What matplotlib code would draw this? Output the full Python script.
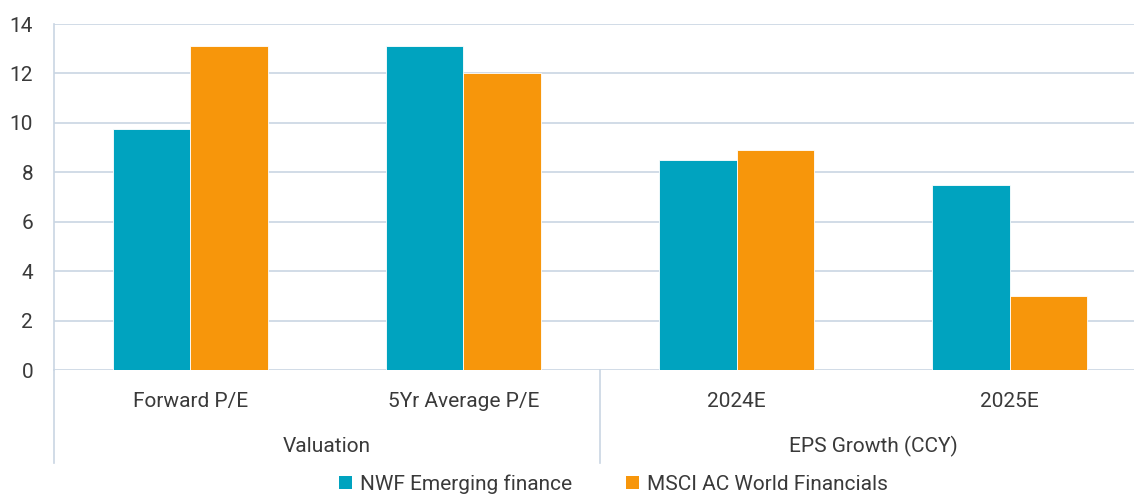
import matplotlib
matplotlib.use("Agg")
import matplotlib.pyplot as plt
import numpy as np
from matplotlib.patches import Patch
import matplotlib.transforms as mtransforms

plt.rcParams["font.family"] = ["Roboto", "DejaVu Sans"]

categories = ["Forward P/E", "5Yr Average P/E", "2024E", "2025E"]
groups = ["Valuation", "EPS Growth (CCY)"]
group_sizes = [2, 2]
series_names = ["NWF Emerging finance", "MSCI AC World Financials"]
nwf = [9.75, 13.1, 8.5, 7.5]
msci = [13.1, 12.0, 8.9, 3.0]
yticks = [0, 2, 4, 6, 8, 10, 12, 14]

TEAL = "#00a3bf"
ORANGE = "#f7960b"
GRID = "#c9d5e3"
TXT = "#3a3a3a"
FS = 15

fig = plt.figure(figsize=(11.34, 4.97), dpi=100)
ax = fig.add_axes([0.0476, 0.2555, 0.963, 0.6962])

x = np.arange(len(categories))
w = 0.283
ax.bar(x - w / 2, nwf, w, color=TEAL, edgecolor="white", linewidth=0.6, zorder=3)
ax.bar(x + w / 2, msci, w, color=ORANGE, edgecolor="white", linewidth=0.6, zorder=3)

ax.set_xlim(-0.5, len(categories) - 0.5)
ax.set_ylim(0, 14)
ax.set_yticks(yticks)
ax.set_yticklabels([str(t) for t in yticks], fontsize=FS, color=TXT)
ax.grid(True, axis="y", color=GRID, linewidth=1.2, zorder=0)
ax.tick_params(axis="y", length=0, pad=15)
ax.tick_params(axis="x", length=0)
ax.set_xticks([])
for s in ["top", "right", "bottom"]:
    ax.spines[s].set_visible(False)
ax.spines["left"].set_color(GRID)
ax.spines["left"].set_linewidth(1.2)

# category and group labels below the axis
trans = mtransforms.blended_transform_factory(ax.transData, ax.transAxes)
for xi, c in zip(x, categories):
    ax.text(xi, -0.09, c, transform=trans, ha="center", va="center",
            fontsize=FS, color=TXT)

start = -0.5
for g, n in zip(groups, group_sizes):
    mid = start + n / 2
    ax.text(mid, -0.22, g, transform=trans, ha="center", va="center",
            fontsize=FS, color=TXT)
    ax.plot([start, start], [0, -0.27], transform=trans, color=GRID,
            linewidth=1.2, clip_on=False)
    start += n

handles = [Patch(facecolor=TEAL), Patch(facecolor=ORANGE)]
fig.legend(handles, series_names, loc="center", bbox_to_anchor=(0.541, 0.026),
           ncol=2, frameon=False, fontsize=FS, handlelength=0.6,
           handleheight=0.6, handletextpad=0.4, columnspacing=2.6,
           labelcolor=TXT, borderpad=0.1)

fig.savefig("out.png", dpi=100)
